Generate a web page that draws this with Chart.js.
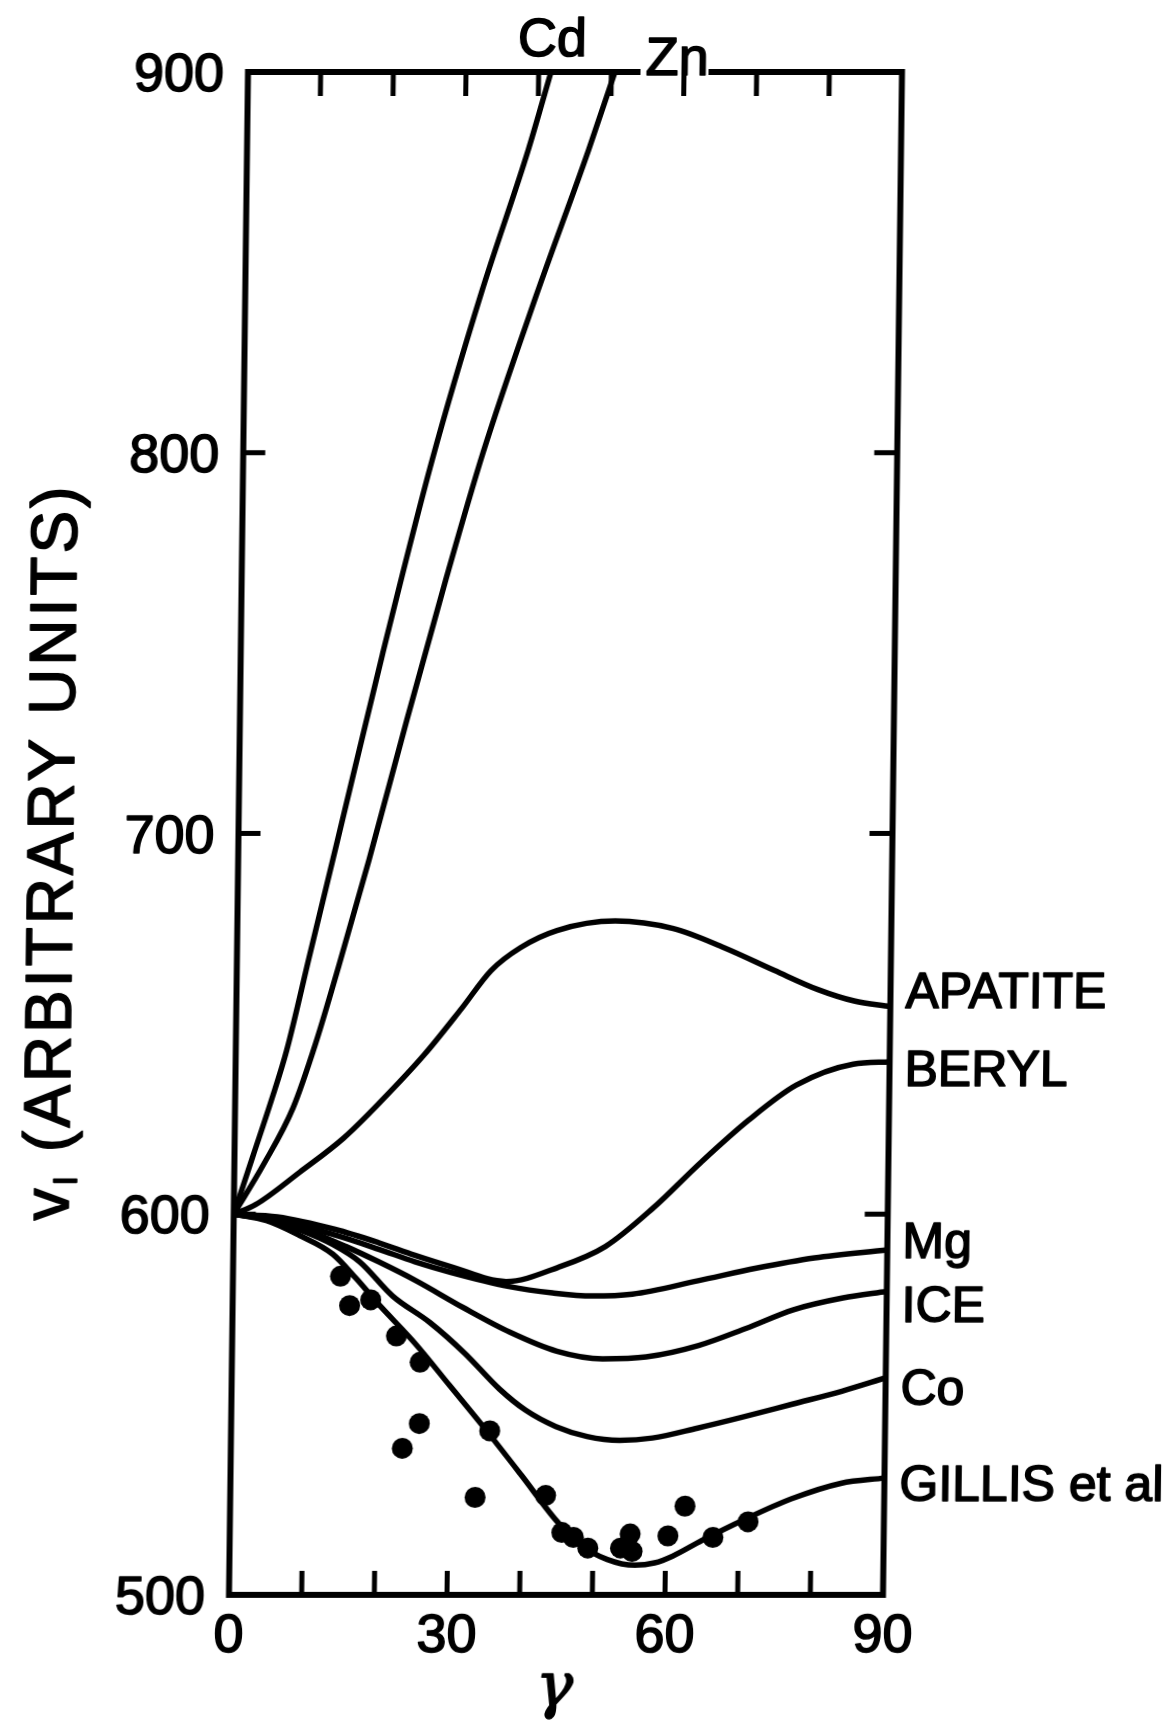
<!DOCTYPE html>
<html>
<head>
<meta charset="utf-8">
<title>v1 against gamma</title>
<script src="https://cdn.jsdelivr.net/npm/chart.js@4.4.0/dist/chart.umd.min.js"></script>
<style>
    html, body { margin: 0; padding: 0; background: #fff; }
    #wrap { width: 1172px; height: 1731px; overflow: hidden; }
    /* the printed figure leans slightly */
    #fig { display: block; transform: skewX(-0.715deg); transform-origin: 0 833.5px; }
</style>
</head>
<body>
<div id="wrap"><canvas id="fig" width="1172" height="1731"></canvas></div>
<script>
// axis ticks and labels
const xTickLabels = [0, 30, 60, 90];
const xMinorTicks = [10, 20, 30, 40, 50, 60, 70, 80];
const yTickLabels = [500, 600, 700, 800, 900];
const yMinorTicks = [600, 700, 800];

// calculated curves: gamma (deg) and v1
const cdGamma = [0, 2.5, 5, 7, 10, 13.5, 19.5, 26, 32.5, 38.7, 41.7];
const cdValue = [600, 615, 630, 643, 668, 697, 747, 798, 842, 879.5, 900];

const znGamma = [0, 4, 8, 11, 14, 18, 23, 28, 33, 40, 47, 50.5];
const znValue = [600, 613, 628, 645, 665, 693, 730, 766, 800, 841, 879.5, 900];

const apatiteGamma = [0, 3, 9, 15, 20, 26, 31, 35, 39, 44, 52, 60, 67, 74, 80, 85, 90];
const apatiteValue = [600, 602.5, 611, 620, 629.5, 642, 654, 664, 670, 674.5, 677, 675, 670, 664, 659, 656, 654.5];

const berylGamma = [0, 6, 14, 20, 25, 30, 37.6, 44.7, 51.2, 57.7, 64.2, 70.7, 77.2, 85, 90];
const berylValue = [600, 599.3, 596, 592.5, 589.2, 586.2, 582.3, 586, 591.5, 601.6, 613.6, 624.7, 633.9, 639.4, 640];

const mgGamma = [0, 6, 14, 20, 25, 30, 38, 44, 49.5, 55, 64, 72, 80, 90];
const mgValue = [600, 598.5, 594.5, 590.8, 587.5, 584.7, 581, 579.3, 578.5, 579, 582.5, 585.8, 588.5, 590.6];

const iceGamma = [0, 5, 10, 15.5, 20, 25.2, 31.7, 38.2, 44.7, 51, 57, 64.2, 70.7, 77.2, 84, 90];
const iceValue = [600, 598.6, 595.8, 591.5, 587.5, 582.5, 575.5, 569, 564, 562, 562.5, 565.5, 570, 574.9, 578, 579.7];

const coGamma = [0, 5, 10, 13.7, 17.4, 22, 27.2, 32, 36.9, 40.5, 44.7, 49, 53.5, 58, 64.2, 70, 77.2, 84, 90];
const coValue = [600, 598.5, 595.2, 592, 587.5, 578.5, 571.5, 563.5, 554, 548.5, 544.2, 541.6, 540.6, 541.2, 543.8, 546.5, 550.1, 553.5, 557];

const gillisGamma = [0, 4.5, 9, 13.7, 17, 20, 25.2, 30, 35, 40, 44.7, 48, 52, 55.8, 58.5, 61, 65, 70.7, 77.2, 84, 90];
const gillisValue = [600, 598.3, 594.5, 589.5, 583, 576.5, 566, 555, 543.5, 531.5, 520, 513.5, 509.3, 507.8, 508.4, 510.2, 514.3, 519.7, 525.2, 529.3, 530.7];

// measured points (Gillis et al)
const dotGamma = [14.8, 16.1, 19.0, 22.6, 25.9, 25.9, 23.6, 33.7, 35.6, 43.4, 45.7, 47.3, 49.3, 53.8, 55.1, 55.4, 60.3, 62.6, 66.5, 71.3];
const dotValue = [583.7, 576.0, 577.5, 568.0, 561.1, 545.0, 538.5, 525.6, 543.1, 526.1, 516.4, 515.1, 512.3, 512.3, 516.0, 511.4, 515.5, 523.3, 515.1, 519.2];

const curveNames = ['APATITE', 'BERYL', 'Mg', 'ICE', 'Co', 'GILLIS et al'];

const pts = (gs, vs) => gs.map((g, i) => ({ x: g, y: vs[i] }));

function curve(label, gs, vs) {
    return {
        label: label,
        data: pts(gs, vs),
        showLine: true,
        borderColor: '#000',
        borderWidth: 5.5,
        pointRadius: 0,
        cubicInterpolationMode: 'monotone',
        fill: false
    };
}

const SANS = '"Liberation Sans", Arial, sans-serif';

// filled text with a thin outline so the lettering reads heavier
function ink(ctx, text, x, y) {
    ctx.fillText(text, x, y);
    ctx.strokeText(text, x, y);
}

// box, inward ticks and all the lettering
const framePlugin = {
    id: 'framePlugin',
    afterDraw(chart) {
        const { ctx, chartArea: a, scales: { x, y } } = chart;
        ctx.save();
        ctx.strokeStyle = '#000';
        ctx.fillStyle = '#000';

        // outer box, the top edge is broken where "Zn" sits
        ctx.lineWidth = 6;
        ctx.lineJoin = 'miter';
        ctx.beginPath();
        ctx.moveTo(699, a.top);
        ctx.lineTo(a.right, a.top);
        ctx.lineTo(a.right, a.bottom);
        ctx.lineTo(a.left, a.bottom);
        ctx.lineTo(a.left, a.top);
        ctx.lineTo(631, a.top);
        ctx.stroke();

        ctx.lineWidth = 5;
        ctx.beginPath();
        xMinorTicks.forEach(g => {
            const px = x.getPixelForValue(g);
            ctx.moveTo(px, a.bottom);
            ctx.lineTo(px, a.bottom - 24);
            ctx.moveTo(px, a.top);
            ctx.lineTo(px, a.top + 24);
        });
        yMinorTicks.forEach(v => {
            const py = y.getPixelForValue(v);
            ctx.moveTo(a.left, py);
            ctx.lineTo(a.left + 22, py);
            ctx.moveTo(a.right, py);
            ctx.lineTo(a.right - 23, py);
        });
        ctx.stroke();

        ctx.lineWidth = 1.6;
        ctx.lineJoin = 'round';

        // tick labels
        ctx.font = '54px ' + SANS;
        ctx.textBaseline = 'alphabetic';
        ctx.textAlign = 'right';
        yTickLabels.forEach(v => ink(ctx, String(v), a.left - 24, y.getPixelForValue(v) + 19));
        ctx.textAlign = 'center';
        xTickLabels.forEach(g => ink(ctx, String(g), x.getPixelForValue(g), a.bottom + 57));

        // curve names on the right
        const nameBase = [1008, 1086, 1258, 1322, 1405, 1501];
        ctx.font = '50px ' + SANS;
        ctx.textAlign = 'left';
        curveNames.forEach((t, i) => ink(ctx, t, a.right + 15, nameBase[i]));

        // Cd and Zn above the box
        ctx.font = '54px ' + SANS;
        ink(ctx, 'Cd', 508, 56);
        ink(ctx, 'Zn', 636, 75);

        // x title
        ctx.font = 'italic 62px "DejaVu Serif", serif';
        ctx.textAlign = 'center';
        ink(ctx, '\u03b3', 565, 1706);

        // y title, rotated, with subscript
        ctx.translate(50, 852);
        ctx.rotate(-Math.PI / 2);
        ctx.textAlign = 'left';
        ctx.letterSpacing = '3px';
        const rest = ' (ARBITRARY UNITS)';
        ctx.font = '64px ' + SANS;
        const wV = ctx.measureText('v').width;
        const wRest = ctx.measureText(rest).width;
        ctx.font = '34px ' + SANS;
        const wI = ctx.measureText('I').width;
        let u = -(wV + wI + wRest) / 2;
        ctx.font = '64px ' + SANS;
        ink(ctx, 'v', u, 23);
        u += wV;
        ctx.font = '34px ' + SANS;
        ink(ctx, 'I', u, 31);
        u += wI;
        ctx.font = '64px ' + SANS;
        ink(ctx, rest, u, 23);

        ctx.restore();
    }
};

new Chart(document.getElementById('fig'), {
    type: 'scatter',
    data: {
        datasets: [
            {
                label: 'Gillis et al (data)',
                data: pts(dotGamma, dotValue),
                showLine: false,
                pointRadius: 10.5,
                pointBorderWidth: 0,
                pointBackgroundColor: '#000',
                pointBorderColor: '#000'
            },
            curve('Cd', cdGamma, cdValue),
            curve('Zn', znGamma, znValue),
            curve('Apatite', apatiteGamma, apatiteValue),
            curve('Beryl', berylGamma, berylValue),
            curve('Mg', mgGamma, mgValue),
            curve('Ice', iceGamma, iceValue),
            curve('Co', coGamma, coValue),
            curve('Gillis et al', gillisGamma, gillisValue)
        ]
    },
    options: {
        responsive: false,
        devicePixelRatio: 1,
        animation: false,
        layout: {
            autoPadding: false,
            padding: { left: 238.5, right: 279.5, top: 72, bottom: 136 }
        },
        scales: {
            x: { type: 'linear', min: 0, max: 90, display: false },
            y: { type: 'linear', min: 500, max: 900, display: false }
        },
        plugins: {
            legend: { display: false },
            tooltip: { enabled: false }
        }
    },
    plugins: [framePlugin]
});
</script>
</body>
</html>
